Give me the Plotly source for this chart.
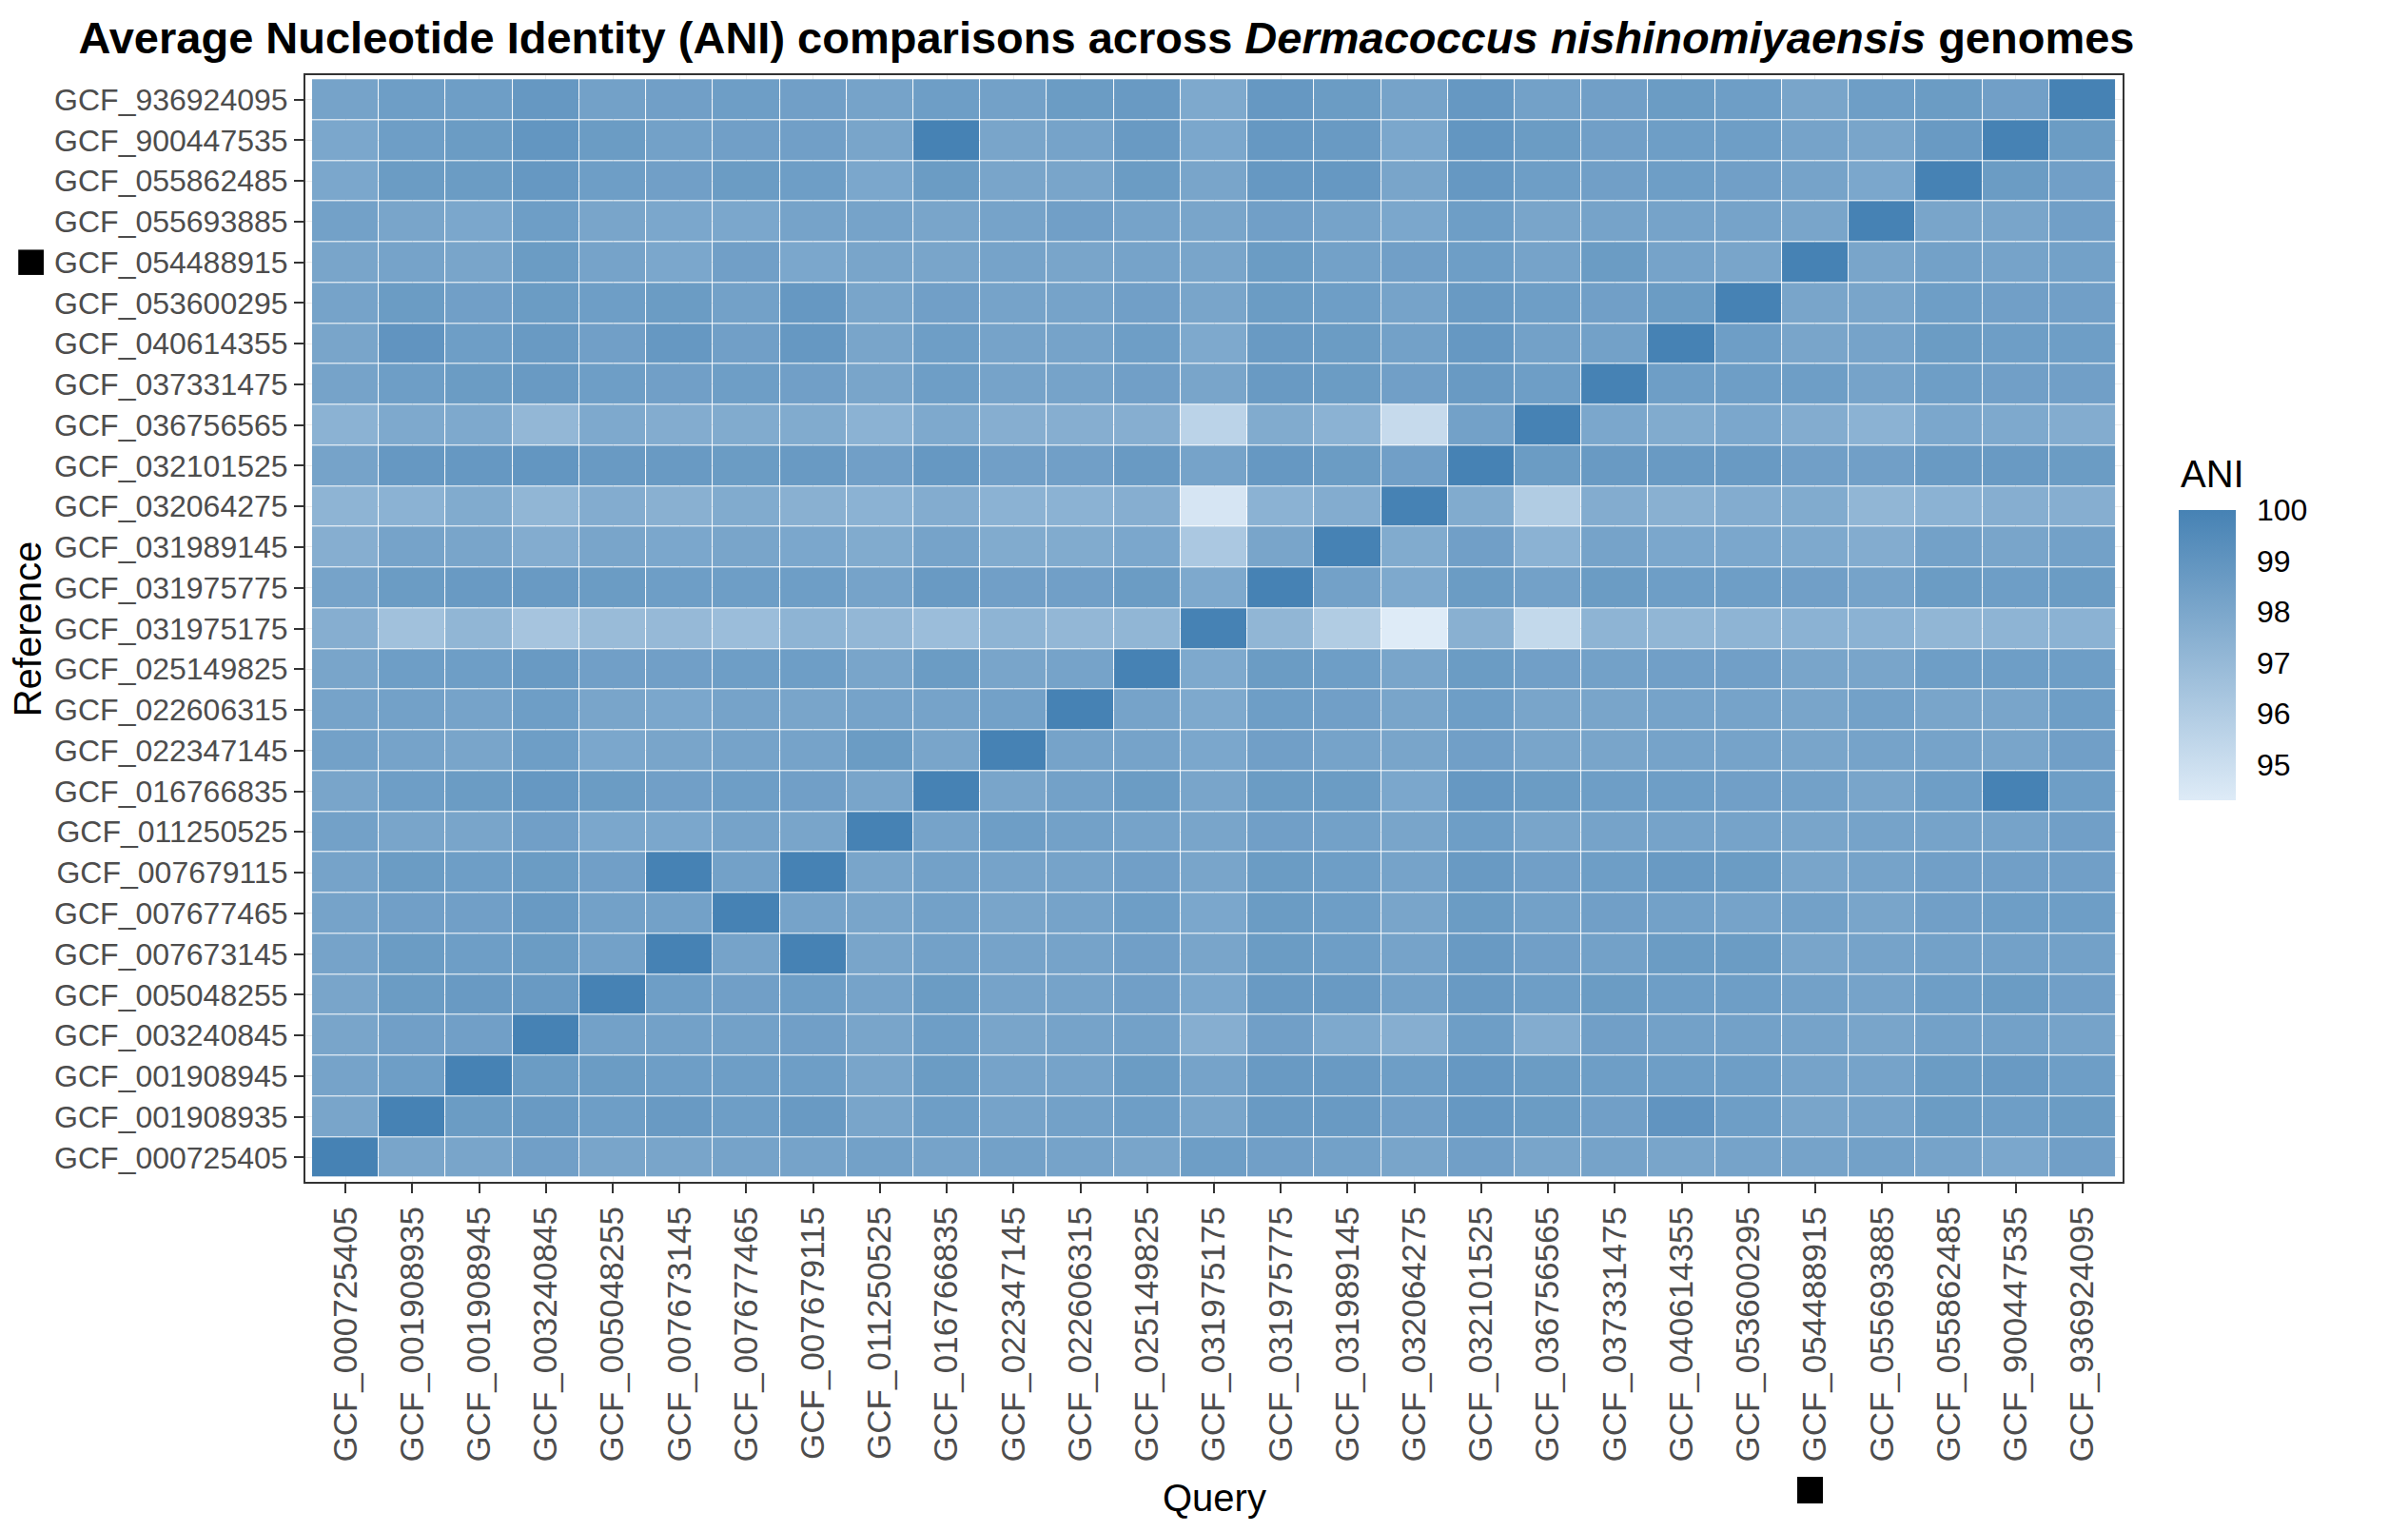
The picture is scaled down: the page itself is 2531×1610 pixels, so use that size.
import plotly.graph_objects as go

# genome accessions, same order on both axes (bottom-to-top / left-to-right)
genomes = [
    "GCF_000725405", "GCF_001908935", "GCF_001908945", "GCF_003240845",
    "GCF_005048255", "GCF_007673145", "GCF_007677465", "GCF_007679115",
    "GCF_011250525", "GCF_016766835", "GCF_022347145", "GCF_022606315",
    "GCF_025149825", "GCF_031975175", "GCF_031975775", "GCF_031989145",
    "GCF_032064275", "GCF_032101525", "GCF_036756565", "GCF_037331475",
    "GCF_040614355", "GCF_053600295", "GCF_054488915", "GCF_055693885",
    "GCF_055862485", "GCF_900447535", "GCF_936924095",
]
highlight = "GCF_054488915"

# ANI of each reference genome (row) against every query genome (columns as above)
ani_000725405 = [100, 98.1, 98.1, 98.4, 98.1, 98.1, 98.2, 98.2, 98.3, 98.2, 98.3, 98.2, 98.1, 98.5, 98.4, 98.3, 98.1, 98.4, 98.1, 98.2, 98.1, 98.2, 98.2, 98.3, 98.2, 98.0, 98.4]
ani_001908935 = [98.1, 100, 98.6, 98.7, 98.5, 98.7, 98.5, 98.7, 98.1, 98.5, 98.2, 98.3, 98.5, 98.1, 98.7, 98.7, 98.4, 98.8, 98.6, 98.4, 99.0, 98.5, 98.1, 98.2, 98.6, 98.5, 98.6]
ani_001908945 = [98.2, 98.5, 100, 98.6, 98.6, 98.5, 98.5, 98.5, 98.1, 98.6, 98.2, 98.2, 98.6, 98.2, 98.7, 98.7, 98.5, 98.8, 98.6, 98.5, 98.5, 98.5, 98.2, 98.2, 98.6, 98.7, 98.5]
ani_003240845 = [98.1, 98.4, 98.4, 100, 98.3, 98.3, 98.3, 98.4, 98.1, 98.5, 98.1, 98.2, 98.3, 97.6, 98.4, 97.9, 97.6, 98.5, 97.7, 98.4, 98.3, 98.3, 98.2, 98.1, 98.3, 98.3, 98.2]
ani_005048255 = [98.1, 98.6, 98.7, 98.7, 100, 98.5, 98.4, 98.5, 98.2, 98.6, 98.2, 98.2, 98.4, 98.0, 98.7, 98.7, 98.3, 98.7, 98.5, 98.6, 98.5, 98.5, 98.3, 98.2, 98.5, 98.6, 98.4]
ani_007673145 = [98.2, 98.6, 98.5, 98.6, 98.3, 100, 98.2, 100, 98.1, 98.3, 98.2, 98.2, 98.4, 98.1, 98.6, 98.5, 98.2, 98.7, 98.4, 98.3, 98.6, 98.6, 98.1, 98.2, 98.3, 98.3, 98.3]
ani_007677465 = [98.2, 98.4, 98.4, 98.7, 98.3, 98.3, 100, 98.2, 98.1, 98.3, 98.1, 98.2, 98.5, 98.0, 98.6, 98.5, 98.1, 98.6, 98.3, 98.4, 98.3, 98.2, 98.3, 98.1, 98.4, 98.5, 98.5]
ani_007679115 = [98.2, 98.6, 98.5, 98.6, 98.4, 100, 98.3, 100, 98.1, 98.3, 98.2, 98.2, 98.4, 98.1, 98.6, 98.5, 98.2, 98.7, 98.4, 98.5, 98.7, 98.6, 98.1, 98.2, 98.4, 98.4, 98.4]
ani_011250525 = [98.3, 98.1, 98.1, 98.4, 98.0, 98.0, 98.2, 98.1, 100, 98.2, 98.5, 98.3, 98.2, 98.1, 98.4, 98.3, 98.1, 98.5, 98.1, 98.2, 98.2, 98.2, 98.1, 98.2, 98.2, 98.2, 98.4]
ani_016766835 = [98.1, 98.5, 98.6, 98.8, 98.6, 98.4, 98.5, 98.4, 98.1, 100, 98.1, 98.3, 98.6, 98.1, 98.6, 98.6, 98.0, 98.8, 98.6, 98.5, 98.5, 98.4, 98.3, 98.1, 98.5, 100, 98.5]
ani_022347145 = [98.3, 98.2, 98.1, 98.5, 98.0, 98.1, 98.2, 98.2, 98.6, 98.1, 100, 98.2, 98.2, 98.0, 98.4, 98.2, 98.1, 98.4, 98.1, 98.1, 98.2, 98.2, 98.1, 98.2, 98.2, 98.1, 98.4]
ani_022606315 = [98.2, 98.3, 98.2, 98.5, 98.1, 98.0, 98.2, 98.1, 98.2, 98.2, 98.3, 100, 98.2, 97.9, 98.5, 98.4, 98.1, 98.5, 98.1, 98.1, 98.2, 98.2, 98.1, 98.3, 98.1, 98.1, 98.5]
ani_025149825 = [98.1, 98.5, 98.5, 98.7, 98.4, 98.4, 98.5, 98.5, 98.1, 98.6, 98.1, 98.2, 100, 97.9, 98.6, 98.5, 98.1, 98.6, 98.4, 98.3, 98.4, 98.4, 98.1, 98.1, 98.5, 98.5, 98.5]
ani_031975175 = [97.6, 96.6, 97.2, 96.4, 96.9, 97.0, 96.8, 97.3, 97.1, 96.8, 97.3, 97.1, 97.2, 100, 97.2, 96.0, 94.3, 97.5, 95.3, 97.3, 97.2, 97.3, 97.4, 97.4, 97.2, 97.3, 97.4]
ani_031975775 = [98.2, 98.6, 98.7, 98.7, 98.6, 98.5, 98.5, 98.5, 98.2, 98.7, 98.4, 98.4, 98.6, 97.9, 100, 98.3, 97.9, 98.6, 98.3, 98.6, 98.5, 98.5, 98.4, 98.2, 98.6, 98.5, 98.6]
ani_031989145 = [97.6, 98.2, 98.1, 97.7, 98.1, 98.0, 98.1, 98.0, 97.8, 98.2, 97.8, 97.8, 98.0, 96.2, 98.1, 100, 97.8, 98.4, 97.4, 98.2, 98.0, 98.0, 97.9, 97.7, 98.3, 98.1, 98.3]
ani_032064275 = [97.3, 97.4, 97.8, 97.2, 97.7, 97.5, 97.8, 97.5, 97.4, 97.7, 97.4, 97.4, 97.6, 94.6, 97.4, 97.7, 100, 97.8, 96.0, 97.7, 97.5, 97.7, 97.8, 97.2, 97.4, 97.6, 97.6]
ani_032101525 = [98.2, 98.8, 98.8, 98.9, 98.7, 98.7, 98.6, 98.7, 98.4, 98.8, 98.4, 98.4, 98.7, 98.2, 98.8, 98.6, 98.4, 100, 98.6, 98.7, 98.7, 98.7, 98.4, 98.4, 98.7, 98.7, 98.6]
ani_036756565 = [97.4, 97.9, 97.9, 97.1, 97.9, 97.7, 97.8, 97.8, 97.4, 97.9, 97.6, 97.6, 97.6, 95.6, 97.8, 97.4, 95.2, 98.3, 100, 98.0, 97.8, 98.0, 97.7, 97.4, 98.0, 97.9, 97.7]
ani_037331475 = [98.2, 98.5, 98.6, 98.7, 98.5, 98.4, 98.5, 98.4, 98.1, 98.5, 98.2, 98.2, 98.4, 98.1, 98.7, 98.6, 98.4, 98.7, 98.5, 100, 98.5, 98.5, 98.5, 98.2, 98.5, 98.4, 98.4]
ani_040614355 = [98.1, 99.0, 98.5, 98.7, 98.4, 98.8, 98.4, 98.8, 98.1, 98.5, 98.2, 98.2, 98.5, 97.9, 98.7, 98.6, 98.3, 98.8, 98.3, 98.3, 100, 98.5, 98.1, 98.2, 98.6, 98.5, 98.5]
ani_053600295 = [98.2, 98.6, 98.4, 98.6, 98.5, 98.6, 98.3, 98.8, 98.1, 98.4, 98.2, 98.2, 98.4, 98.1, 98.6, 98.5, 98.2, 98.7, 98.5, 98.4, 98.6, 100, 98.1, 98.1, 98.5, 98.4, 98.4]
ani_054488915 = [98.1, 98.2, 98.1, 98.6, 98.2, 98.0, 98.4, 98.0, 98.1, 98.1, 98.2, 98.1, 98.2, 98.1, 98.6, 98.3, 98.4, 98.5, 98.2, 98.6, 98.2, 98.1, 100, 98.1, 98.3, 98.2, 98.3]
ani_055693885 = [98.3, 98.1, 98.0, 98.5, 98.1, 98.0, 98.0, 98.2, 98.2, 98.1, 98.2, 98.4, 98.2, 98.1, 98.4, 98.2, 98.0, 98.5, 98.1, 98.2, 98.2, 98.2, 98.1, 100, 98.1, 98.1, 98.4]
ani_055862485 = [98.0, 98.6, 98.6, 98.8, 98.5, 98.4, 98.6, 98.5, 98.0, 98.6, 98.1, 98.1, 98.6, 98.1, 98.8, 98.8, 98.1, 98.8, 98.5, 98.4, 98.5, 98.4, 98.2, 98.0, 100, 98.6, 98.4]
ani_900447535 = [98.0, 98.5, 98.6, 98.9, 98.6, 98.3, 98.4, 98.4, 98.1, 100, 98.1, 98.2, 98.7, 98.0, 98.8, 98.7, 98.0, 98.9, 98.6, 98.4, 98.5, 98.5, 98.2, 98.1, 98.7, 100, 98.6]
ani_936924095 = [98.2, 98.5, 98.5, 98.8, 98.3, 98.4, 98.5, 98.4, 98.2, 98.5, 98.3, 98.6, 98.7, 97.9, 98.8, 98.6, 98.2, 98.8, 98.3, 98.4, 98.6, 98.5, 98.1, 98.5, 98.6, 98.4, 100]

ani = [
    ani_000725405, ani_001908935, ani_001908945, ani_003240845, ani_005048255,
    ani_007673145, ani_007677465, ani_007679115, ani_011250525, ani_016766835,
    ani_022347145, ani_022606315, ani_025149825, ani_031975175, ani_031975775,
    ani_031989145, ani_032064275, ani_032101525, ani_036756565, ani_037331475,
    ani_040614355, ani_053600295, ani_054488915, ani_055693885, ani_055862485,
    ani_900447535, ani_936924095,
]
ani_ticks = [95, 96, 97, 98, 99, 100]

W, H = 2531, 1610
FONT = "Liberation Sans, Arial, Helvetica, sans-serif"


def main():
    fig = go.Figure(
        go.Heatmap(
            z=ani,
            x=genomes,
            y=genomes,
            xgap=1,
            ygap=1,
            colorscale=[[0, "#DEEBF7"], [1, "#4682B4"]],
            colorbar=dict(
                tickvals=ani_ticks,
                tickfont=dict(size=32, color="black"),
                ticks="outside",
                ticklen=16,
                tickcolor="rgba(0,0,0,0)",
                outlinewidth=0,
                thickness=60,
                lenmode="pixels",
                len=305,
                x=1.031,
                xanchor="left",
                y=(1234 - 680.5) / 1163,
                yanchor="middle",
                ypad=0,
                xpad=0,
            ),
            hovertemplate="Query: %{x}<br>Reference: %{y}<br>ANI: %{z}<extra></extra>",
        )
    )

    axis_common = dict(
        type="category",
        categoryorder="array",
        categoryarray=genomes,
        range=[-0.6, len(genomes) - 0.4],
        ticks="outside",
        ticklen=10,
        tickwidth=2,
        tickcolor="#333333",
        showline=True,
        mirror=True,
        linecolor="#333333",
        linewidth=2,
        showgrid=True,
        gridcolor="#EBEBEB",
        zeroline=False,
    )
    fig.update_xaxes(**axis_common, tickangle=-90, tickfont=dict(size=35, color="#4D4D4D"))
    fig.update_yaxes(**axis_common, tickfont=dict(size=32, color="#4D4D4D"))

    # black squares flagging the genome of interest on both axes
    hi = genomes.index(highlight)
    fig.add_shape(type="rect", xref="paper", yref="y", x0=-0.158, x1=-0.144,
                  y0=hi - 0.31, y1=hi + 0.31, fillcolor="black", line_width=0)
    fig.add_shape(type="rect", xref="x", yref="paper", x0=hi - 0.27, x1=hi + 0.115,
                  y0=-0.2906, y1=-0.2666, fillcolor="black", line_width=0)

    fig.add_annotation(text="Query", xref="paper", yref="paper", x=0.5, y=-0.2855,
                       showarrow=False, font=dict(size=40, color="black"), yanchor="middle")
    fig.add_annotation(text="Reference", xref="paper", yref="paper", x=-0.153, y=0.5,
                       showarrow=False, textangle=-90, font=dict(size=40, color="black"),
                       xanchor="center")
    # legend title
    fig.add_annotation(text="ANI", xref="paper", yref="paper", x=1.031,
                       y=(1234 - 490) / 1163, xanchor="left", yanchor="middle",
                       showarrow=False, font=dict(size=40, color="black"))

    fig.update_layout(
        title=dict(
            text="<b>Average Nucleotide Identity (ANI) comparisons across "
                 "<i>Dermacoccus nishinomiyaensis</i> genomes</b>",
            font=dict(size=47, color="black"),
            xref="container", x=1155 / W, xanchor="center",
            yref="container", y=1 - 32 / H, yanchor="middle",
        ),
        font=dict(family=FONT),
        width=W,
        height=H,
        margin=dict(l=313, r=W - 2223, t=71, b=H - 1234, pad=0),
        plot_bgcolor="white",
        paper_bgcolor="white",
    )

    fig.write_html("out.html")


if __name__ == "__main__":
    main()
